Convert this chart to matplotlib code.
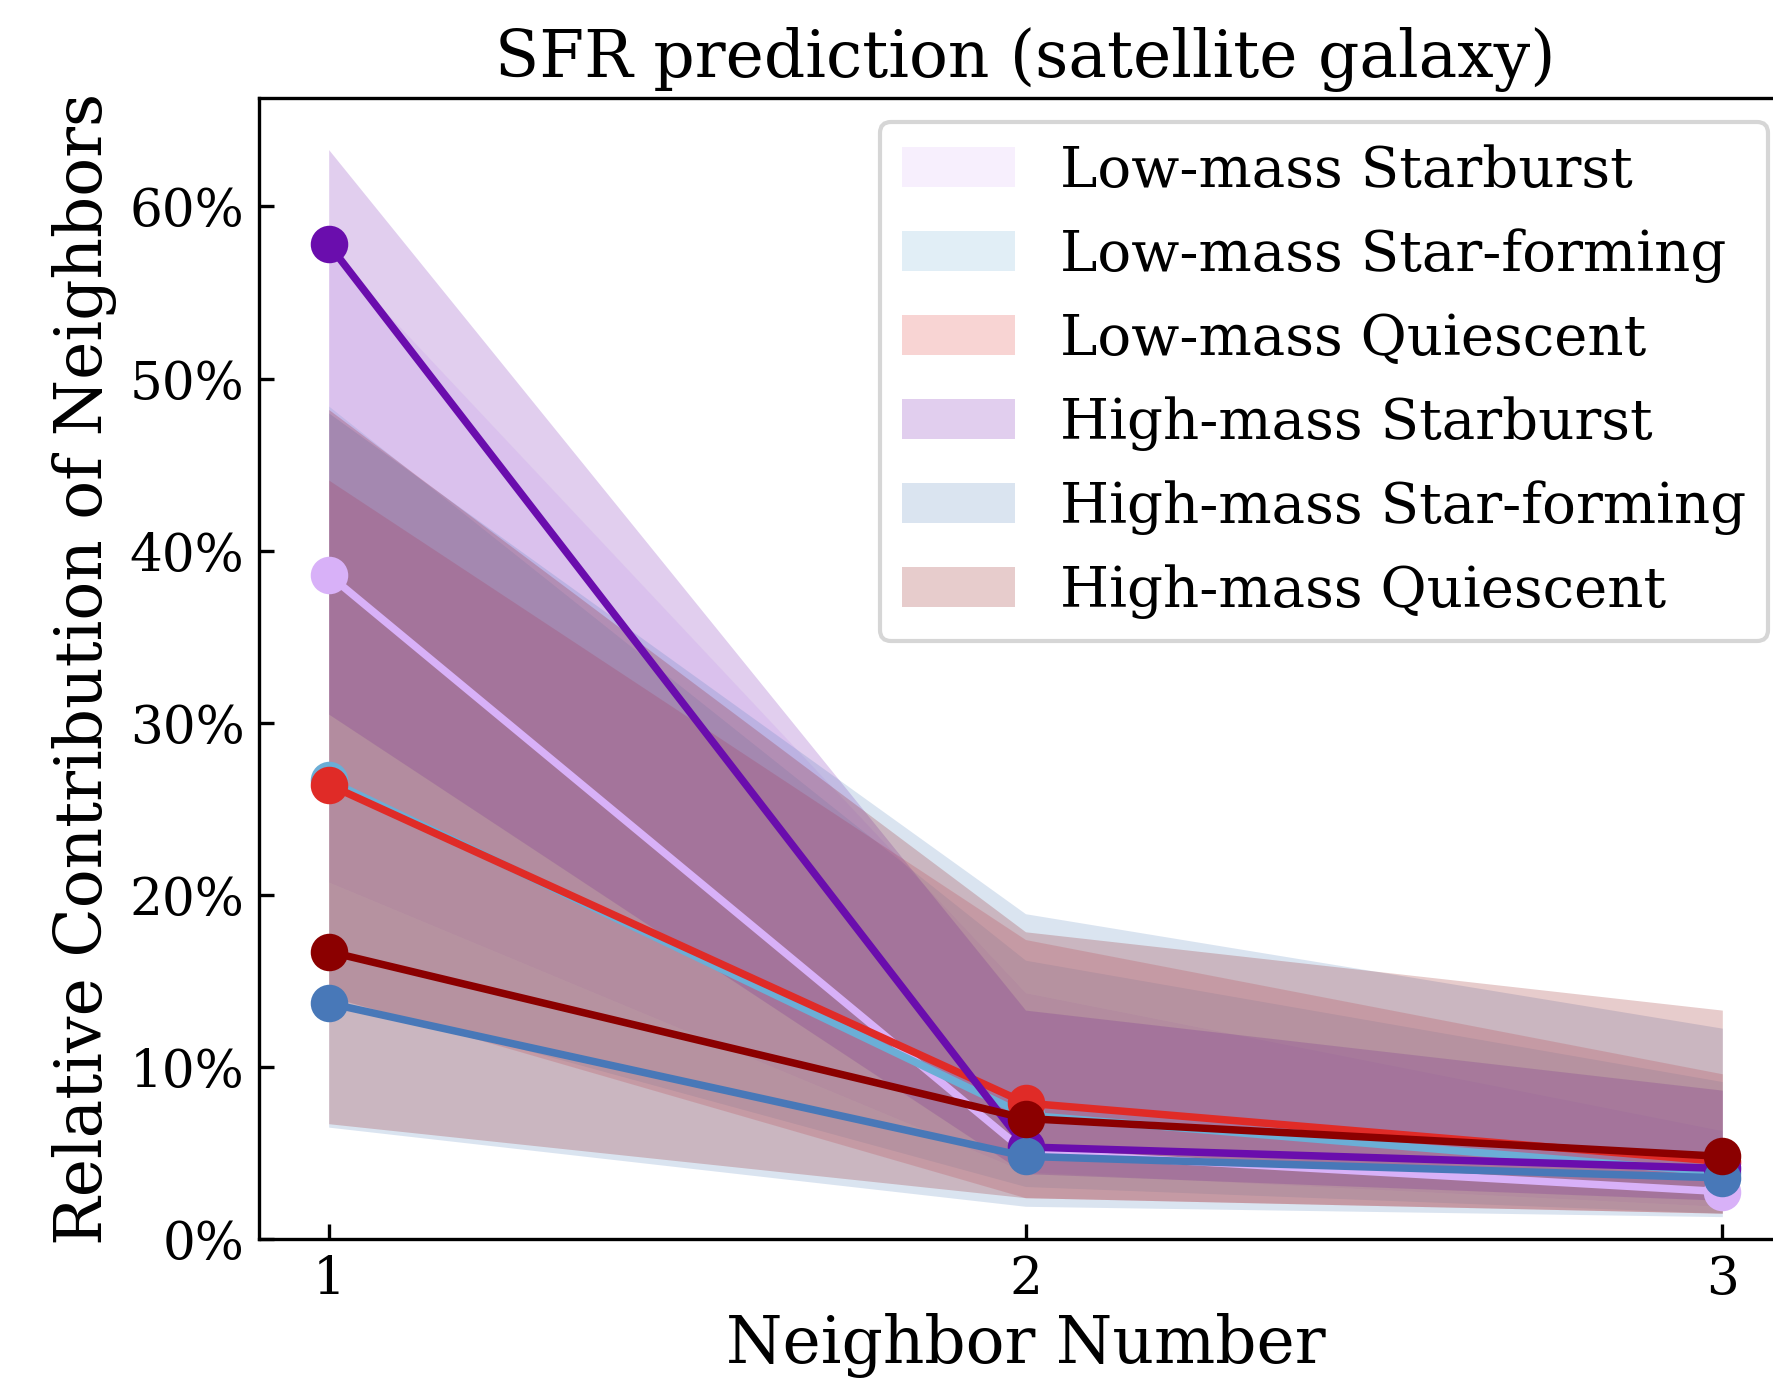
import numpy as np
import matplotlib
matplotlib.use("Agg")
import matplotlib.pyplot as plt
from matplotlib.ticker import PercentFormatter

plt.rcParams['font.family'] = 'DejaVu Serif'

# neighbour number on the x axis
neighbors = [1, 2, 3]

labels = ["Low-mass Starburst", "Low-mass Star-forming", "Low-mass Quiescent",
          "High-mass Starburst", "High-mass Star-forming", "High-mass Quiescent"]
colors = ["#d8b1f8", "#6baed6", "#e02b27", "#6a0dad", "#4878b8", "#8b0000"]

# mean relative contribution (%)
lm_sb = [38.6, 5.05, 2.75]
lm_sf = [26.65, 7.2, 3.85]
lm_q = [26.4, 7.9, 4.5]
hm_sb = [57.8, 5.35, 4.1]
hm_sf = [13.7, 4.8, 3.55]
hm_q = [16.7, 7.0, 4.8]

# upper / lower bounds of the shaded bands (%)
lm_sb_hi = [57.4, 14.3, 6.3]
lm_sb_lo = [20.75, 3.9, 1.9]
lm_sf_hi = [48.4, 16.2, 9.15]
lm_sf_lo = [14.1, 3.05, 1.5]
lm_q_hi = [44.1, 17.4, 9.6]
lm_q_lo = [14.1, 2.4, 1.5]
hm_sb_hi = [63.3, 13.3, 8.65]
hm_sb_lo = [30.5, 3.8, 2.25]
hm_sf_hi = [48.0, 18.9, 12.25]
hm_sf_lo = [6.5, 1.9, 1.3]
hm_q_hi = [48.2, 17.85, 13.3]
hm_q_lo = [6.7, 2.4, 1.5]

means = [lm_sb, lm_sf, lm_q, hm_sb, hm_sf, hm_q]
highs = [lm_sb_hi, lm_sf_hi, lm_q_hi, hm_sb_hi, hm_sf_hi, hm_q_hi]
lows = [lm_sb_lo, lm_sf_lo, lm_q_lo, hm_sb_lo, hm_sf_lo, hm_q_lo]

W, H, DPI = 1773, 1383, 300
fig = plt.figure(figsize=(W/DPI, H/DPI), dpi=DPI)
# right spine sits just outside the canvas, like the cropped original
ax = fig.add_axes([259/W, (H-1239)/H, (1792-259)/W, (1239-98)/H])

for m, hi, lo, c, lab in zip(means, highs, lows, colors, labels):
    ax.plot(neighbors, m, color=c, lw=1.8, marker="o", ms=8)
    ax.fill_between(neighbors, lo, hi, color=c, alpha=0.2, lw=0, label=lab)

ax.set_xlim(0.9, 3.1)
ax.set_ylim(0, 66.3)
ax.set_xticks(neighbors)
ax.set_yticks(np.arange(0, 61, 10))
ax.yaxis.set_major_formatter(PercentFormatter(xmax=100, decimals=0))
ax.tick_params(direction="in", labelsize=12.4)

ax.set_xlabel("Neighbor Number", fontsize=15.5, labelpad=2)
ax.set_ylabel("Relative Contribution of Neighbors", fontsize=15.5, labelpad=3)
ax.set_title("SFR prediction (satellite galaxy)", fontsize=15.5, pad=5)
ax.legend(loc="upper right", fontsize=13.5, labelspacing=0.52, borderaxespad=0.42)

fig.savefig("out.png", dpi=DPI)
